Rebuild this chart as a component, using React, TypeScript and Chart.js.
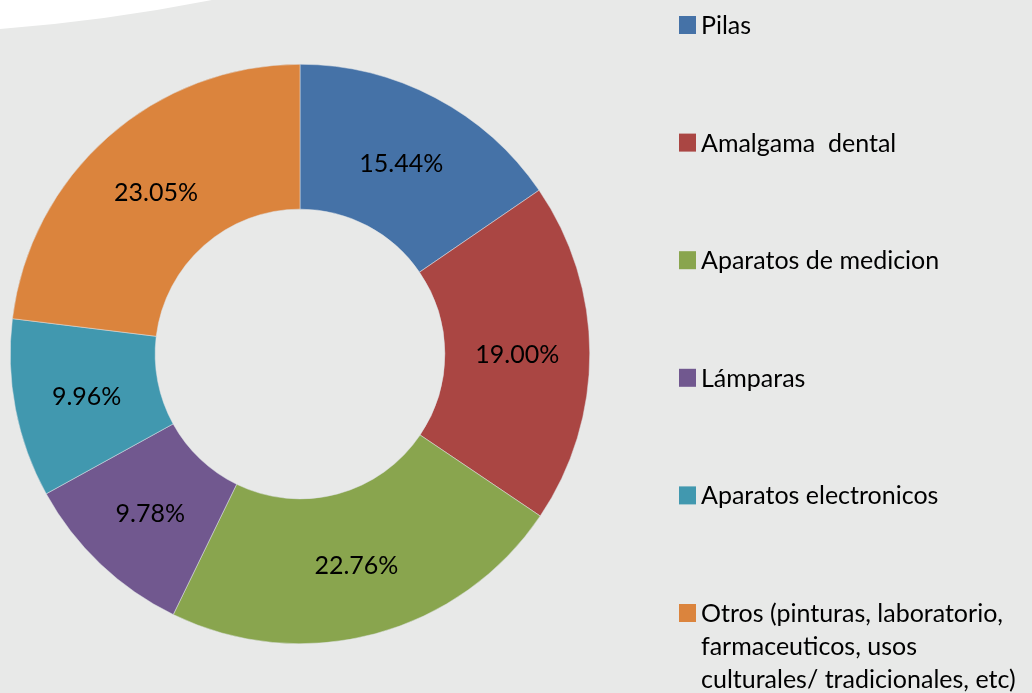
import React, { useEffect, useRef } from "react";
import { Chart, registerables } from "chart.js";

Chart.register(...registerables);

const categories = [
  "Pilas",
  "Amalgama  dental",
  "Aparatos de medicion",
  "Lámparas",
  "Aparatos electronicos",
  "Otros (pinturas, laboratorio,\nfarmaceuticos, usos\nculturales/ tradicionales, etc)",
];
const values = [15.44, 19.0, 22.76, 9.78, 9.96, 23.05];
const valueLabels = ["15.44%", "19.00%", "22.76%", "9.78%", "9.96%", "23.05%"];
const colors = ["#4572A7", "#AA4643", "#89A54E", "#71588F", "#4198AF", "#DB843D"];

const BG = "#e8e9e8";
const FONT = "Lato, 'Open Sans', sans-serif";

const backgroundPlugin = {
  id: "bgShape",
  beforeDraw(chart: any) {
    const ctx = chart.ctx;
    ctx.save();
    ctx.fillStyle = BG;
    ctx.fillRect(0, 0, chart.width, chart.height);
    ctx.fillStyle = "#ffffff";
    ctx.beginPath();
    ctx.moveTo(0, 0);
    ctx.lineTo(0, 29);
    ctx.quadraticCurveTo(105, 21, 212, 0);
    ctx.closePath();
    ctx.fill();
    ctx.restore();
  },
};

const labelsPlugin = {
  id: "sliceLabels",
  afterDatasetsDraw(chart: any) {
    const ctx = chart.ctx;
    const meta = chart.getDatasetMeta(0);
    ctx.save();
    ctx.font = `25px ${FONT}`;
    ctx.fillStyle = "#000000";
    ctx.textAlign = "center";
    ctx.textBaseline = "middle";
    meta.data.forEach((arc: any, i: number) => {
      const p = arc.tooltipPosition();
      ctx.fillText(valueLabels[i], p.x, p.y + 2);
    });
    ctx.restore();
  },
};

const legendPlugin = {
  id: "customLegend",
  afterDraw(chart: any) {
    const ctx = chart.ctx;
    ctx.save();
    ctx.font = `25px ${FONT}`;
    ctx.textAlign = "left";
    ctx.textBaseline = "middle";
    const x0 = 679;
    const y0 = 25;
    const step = 117.6;
    const lineH = 33;
    categories.forEach((label, i) => {
      const y = y0 + i * step;
      ctx.fillStyle = colors[i];
      ctx.fillRect(x0, y - 9, 17, 18);
      ctx.fillStyle = "#000000";
      label.split("\n").forEach((line, j) => {
        ctx.fillText(line, x0 + 22, y + 1 + j * lineH);
      });
    });
    ctx.restore();
  },
};

export default function App() {
  const ref = useRef<HTMLCanvasElement | null>(null);
  useEffect(() => {
    if (!ref.current) return;
    const chart = new Chart(ref.current, {
      type: "doughnut",
      data: {
        labels: categories,
        datasets: [
          {
            data: values,
            backgroundColor: colors,
            borderColor: "#dfe3e6",
            borderWidth: 0.5,
          },
        ],
      },
      options: {
        animation: false,
        responsive: false,
        cutout: "50%",
        layout: { padding: { left: 10, right: 442, top: 64, bottom: 49 } },
        plugins: {
          legend: { display: false },
          tooltip: { enabled: false },
        },
      },
      plugins: [backgroundPlugin, labelsPlugin, legendPlugin],
    });
    return () => chart.destroy();
  }, []);
  return (
    <div style={{ position: "absolute", left: 0, top: 0, width: 1032, height: 693 }}>
      <canvas ref={ref} width={1032} height={693} style={{ display: "block" }} />
    </div>
  );
}
